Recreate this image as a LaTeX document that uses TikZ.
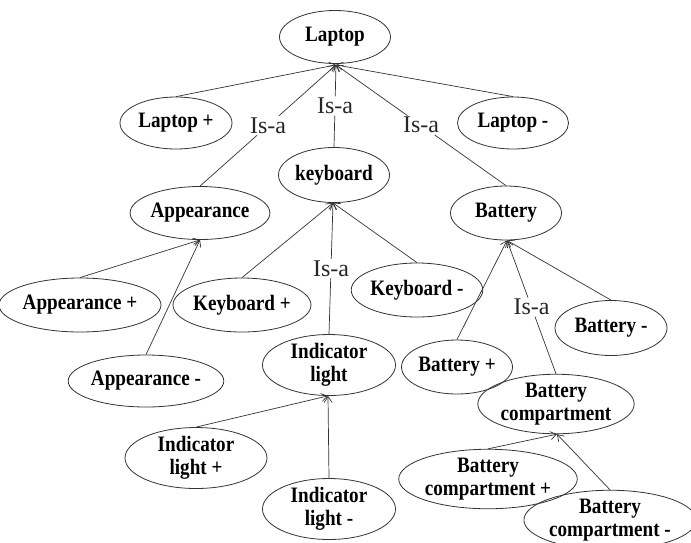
\documentclass[tikz,border=0pt]{standalone}
\usepackage{fontspec}
\setmainfont{Liberation Serif}
\newfontfamily\nodefont{Liberation Serif}[FakeStretch=0.87]
\usetikzlibrary{shapes.geometric,arrows.meta,calc}
\tikzset{
  ell/.style={draw=black!80, line width=0.8pt, ellipse, inner sep=0pt, align=center,
    font=\nodefont\fontsize{22}{23}\selectfont\bfseries},
  isa/.style={inner sep=1.5pt, font=\fontsize{24}{26}\selectfont, text=black!85},
  con/.style={draw=black!80, line width=0.7pt},
  arr/.style={con, -{Straight Barb[length=6pt,width=8pt]}},
}
\begin{document}
\begin{tikzpicture}[x=1pt,y=-1pt]
\useasboundingbox (0,0) rectangle (691,542);
\clip (0,0) rectangle (691,542);
% nodes
\node[ell, minimum width=111, minimum height=53] (lap) at (335,37) {Laptop};
\node[ell, minimum width=112, minimum height=52] (lapp) at (176,123) {Laptop +};
\node[ell, minimum width=111, minimum height=52] (lapm) at (513,123) {Laptop -};
\node[ell, minimum width=111, minimum height=55] (kb) at (334,175) {keyboard};
\node[ell, minimum width=135, minimum height=53] (app) at (200,213) {Appearance};
\node[ell, minimum width=111, minimum height=54] (bat) at (506,213) {Battery};
\node[ell, minimum width=145, minimum height=54] (appp) at (80,305) {Appearance +};
\node[ell, minimum width=135, minimum height=54] (kbp) at (242,305) {Keyboard +};
\node[ell, minimum width=129, minimum height=54] (kbm) at (417,290) {Keyboard -};
\node[ell, minimum width=153, minimum height=52] (appm) at (146,381) {Appearance -};
\node[ell, minimum width=133, minimum height=56] (ind) at (329,365) {Indicator\\light};
\node[ell, minimum width=111, minimum height=54] (batp) at (457,367) {Battery +};
\node[ell, minimum width=112, minimum height=55] (batm) at (611,328) {Battery -};
\node[ell, minimum width=148, minimum height=53] (bc) at (556,404) {Battery\\compartment};
\node[ell, minimum width=142, minimum height=53] (indp) at (196,458) {Indicator\\light +};
\node[ell, minimum width=133, minimum height=52] (indm) at (329,509) {Indicator\\light -};
\node[ell, minimum width=173, minimum height=58] (bcp) at (488,479) {Battery\\compartment +};
\node[ell, minimum width=160, minimum height=56] (bcm) at (610,520) {Battery\\compartment -};
% tips
\coordinate (tlap) at ($(lap.south)+(1,1)$);
\coordinate (tkb) at ($(kb.south)+(-1,0)$);
\coordinate (tapp) at (app.south);
\coordinate (tbat) at ($(bat.south)+(1,0)$);
\coordinate (tind) at ($(ind.south)+(-1,0)$);
\coordinate (tbc) at ($(bc.south)+(1,0)$);
% Is-a labels
\node[isa] (i1) at ($(app.north)!0.5!(tlap)$) {Is-a};
\node[isa] (i2) at ($(kb.north)!0.5!(tlap)$) {Is-a};
\node[isa] (i3) at ($(bat.north)!0.5!(tlap)$) {Is-a};
\node[isa] (i4) at ($(ind.north)!0.5!(tkb)$) {Is-a};
\node[isa] (i5) at ($(bc.north)!0.5!(tbat)$) {Is-a};
% connectors
\draw[arr] (lapp.north) -- (tlap);
\draw[arr] (lapm.north) -- (tlap);
\draw[con] (app.north) -- (i1); \draw[arr] (i1) -- (tlap);
\draw[con] (kb.north) -- (i2); \draw[arr] (i2) -- (tlap);
\draw[con] (bat.north) -- (i3); \draw[arr] (i3) -- (tlap);
\draw[arr] (appp.north) -- (tapp);
\draw[arr] (appm.north) -- (tapp);
\draw[arr] (kbp.north) -- (tkb);
\draw[arr] (kbm.north) -- (tkb);
\draw[con] (ind.north) -- (i4); \draw[arr] (i4) -- (tkb);
\draw[arr] (batp.north) -- (tbat);
\draw[arr] (batm.north) -- (tbat);
\draw[con] (bc.north) -- (i5); \draw[arr] (i5) -- (tbat);
\draw[arr] (indp.north) -- (tind);
\draw[arr] (indm.north) -- (tind);
\draw[arr] (bcp.north) -- (tbc);
\draw[arr] (bcm.north) -- (tbc);
\end{tikzpicture}
\end{document}
